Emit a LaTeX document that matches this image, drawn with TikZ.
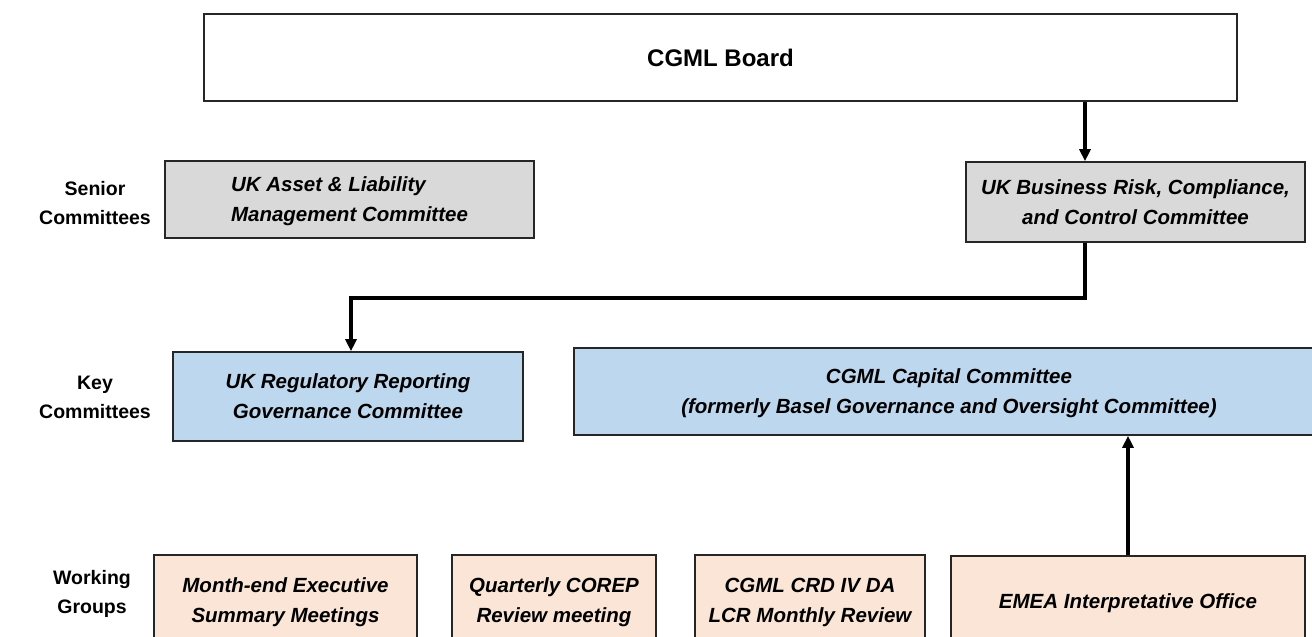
\documentclass[tikz,border=0pt]{standalone}
\usepackage{fontspec}
\setmainfont{Liberation Sans}
\usepackage{xcolor}
\usetikzlibrary{arrows.meta}

\definecolor{seniorgray}{HTML}{D9D9D9}
\definecolor{keyblue}{HTML}{BDD7EE}
\definecolor{wgpeach}{HTML}{FBE5D6}

\tikzset{
	x=1pt, y=-1pt,
	>={Triangle[width=11pt,length=12pt]},
	box/.style={draw=black!85, line width=1.6pt, rectangle, inner sep=0pt, text depth=0pt,
		align=center, font=\fontsize{20.5}{30}\selectfont\bfseries\itshape},
	senior/.style={box, fill=seniorgray},
	keycom/.style={box, fill=keyblue},
	wgroup/.style={box, fill=wgpeach, minimum height=90pt},
	tier/.style={align=center, font=\fontsize{19.5}{29}\selectfont\bfseries},
	link/.style={->, line width=3.6pt, black}}

\begin{document}
\begin{tikzpicture}
		
		\clip (0,0) rectangle (1312,637);
		
		\node[box, minimum width=1033pt, minimum height=87pt, font=\fontsize{24}{28}\selectfont\bfseries] (board) at (720.5,57.5) {CGML Board};
		
		% senior committees
		\node[tier] (t1) at (95,203) {Senior\\Committees};
		\node[senior, minimum width=369pt, minimum height=77pt, align=left] (alm) at (349.5,199.5) {UK Asset \& Liability\\Management Committee};
		\node[senior, minimum width=339pt, minimum height=80pt] (brcc) at (1135.5,202) {UK Business Risk, Compliance,\\and Control Committee};
		
		% key committees
		\node[tier] (t2) at (95,397) {Key\\Committees};
		\node[keycom, minimum width=350pt, minimum height=89pt] (rrgc) at (348,396.5) {UK Regulatory Reporting\\Governance Committee};
		\node[keycom, minimum width=750pt, minimum height=87pt] (cap) at (949,391.5) {CGML Capital Committee\\(formerly Basel Governance and Oversight Committee)};
		
		% working groups
		\node[tier] (t3) at (92,594) {Working\\Groups};
		\node[wgroup, minimum width=263pt] (w1) at (285.5,600) {Month-end Executive\\Summary Meetings};
		\node[wgroup, minimum width=204pt] (w2) at (554,600) {Quarterly COREP\\Review meeting};
		\node[wgroup, minimum width=230pt] (w3) at (810,600) {CGML CRD IV DA\\LCR Monthly Review};
		\node[wgroup, minimum width=354pt] (w4) at (1128,601) {EMEA Interpretative Office};
		
		\coordinate (tap) at (1085,0);
		\coordinate (bend) at (351,298);
		
		\draw[link] (board.south -| tap) -- (brcc.north -| tap);
		\draw[link] (brcc.south -| tap) |- (bend) -- (rrgc.north -| bend);
		\draw[link] (w4.north) -- (cap.south -| w4.north);
		
	\end{tikzpicture}
\end{document}
